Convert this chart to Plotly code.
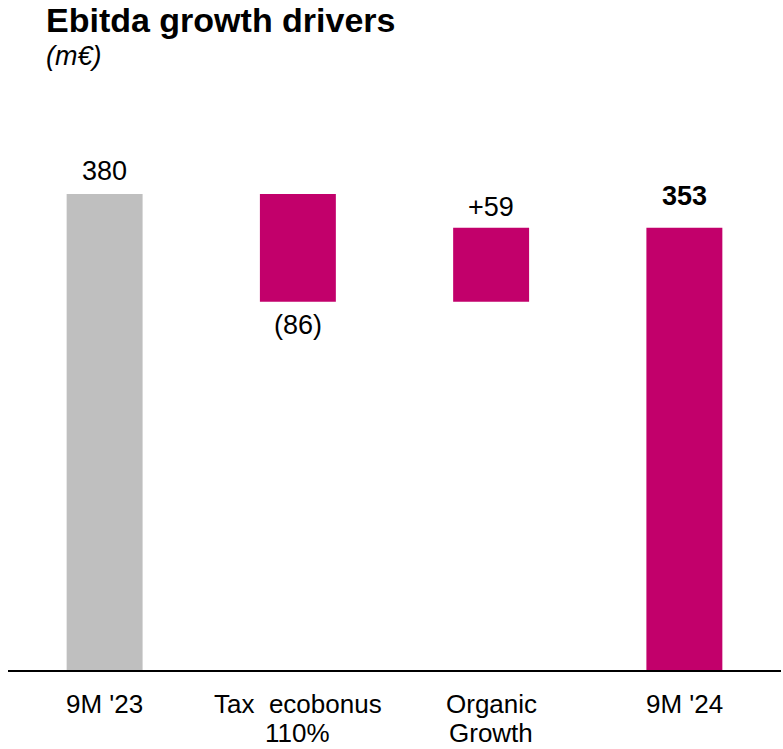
import plotly.graph_objects as go

categories = ["9M '23", "Tax  ecobonus<br>110%", "Organic<br>Growth", "9M '24"]
values = [380, -86, 59, 353]
measures = ["absolute", "relative", "relative", "total"]
labels = ["380", "(86)", "+59", "<b>353</b>"]
colors = ["#BFBFBF", "#C2006B", "#C2006B", "#C2006B"]
label_shift = [6, -6, 4, 15]

FONT = "Liberation Sans, Arial, sans-serif"

# compute bases / tops from data
bases, heights = [], []
running = 0
for v, m in zip(values, measures):
    if m in ("absolute", "total"):
        bases.append(0)
        heights.append(v)
        running = v
    else:
        bases.append(running)
        heights.append(v)
        running += v

fig = go.Figure()
fig.add_trace(go.Bar(
    x=categories, y=heights, base=bases,
    marker=dict(color=colors, line=dict(width=0)),
    hoverinfo="skip",
))

for c, b, h, lab, s in zip(categories, bases, heights, labels, label_shift):
    top = max(b, b + h)
    bot = min(b, b + h)
    if h < 0:
        fig.add_annotation(x=c, y=bot, text=lab, showarrow=False, yanchor="top",
                           yshift=s, font=dict(size=27, color="#000000", family=FONT))
    else:
        fig.add_annotation(x=c, y=top, text=lab, showarrow=False, yanchor="bottom",
                           yshift=s, font=dict(size=27, color="#000000", family=FONT))

# category labels (tighter line spacing than plotly's tick labels allow)
line_shifts = [-18, -47]
for c in categories:
    for i, line in enumerate(c.split("<br>")):
        fig.add_annotation(x=c, xref="x", yref="paper", y=0, yanchor="top",
                           yshift=line_shifts[i], text=line, showarrow=False,
                           borderpad=0,
                           font=dict(size=26, color="#000000", family=FONT))

T, B = 90, 79
PH = 749 - T - B
fig.add_annotation(xref="paper", yref="paper", x=(44 - 8) / 773, y=1 + (T + 1) / PH,
                   xanchor="left", yanchor="top", showarrow=False,
                   text="<b>Ebitda growth drivers</b>",
                   font=dict(size=34, color="#000000", family=FONT))
fig.add_annotation(xref="paper", yref="paper", x=(44 - 8) / 773, y=1 + (T - 39) / PH,
                   xanchor="left", yanchor="top", showarrow=False,
                   text="<i>(m€)</i>",
                   font=dict(size=27, color="#000000", family=FONT))

fig.update_layout(
    width=783, height=749,
    margin=dict(l=8, r=2, t=T, b=B, autoexpand=False),
    paper_bgcolor="white", plot_bgcolor="white",
    showlegend=False,
    bargap=0.607,
    xaxis=dict(range=[-0.5, 3.5], showline=True, linecolor="#000000", linewidth=2,
               showgrid=False, zeroline=False, ticks="", showticklabels=False,
               automargin=False),
    yaxis=dict(range=[0, 463], visible=False, showgrid=False, zeroline=False,
               automargin=False),
)

fig.write_html("out.html", config={"displayModeBar": False},
               post_script="document.body.style.margin='0px';")
